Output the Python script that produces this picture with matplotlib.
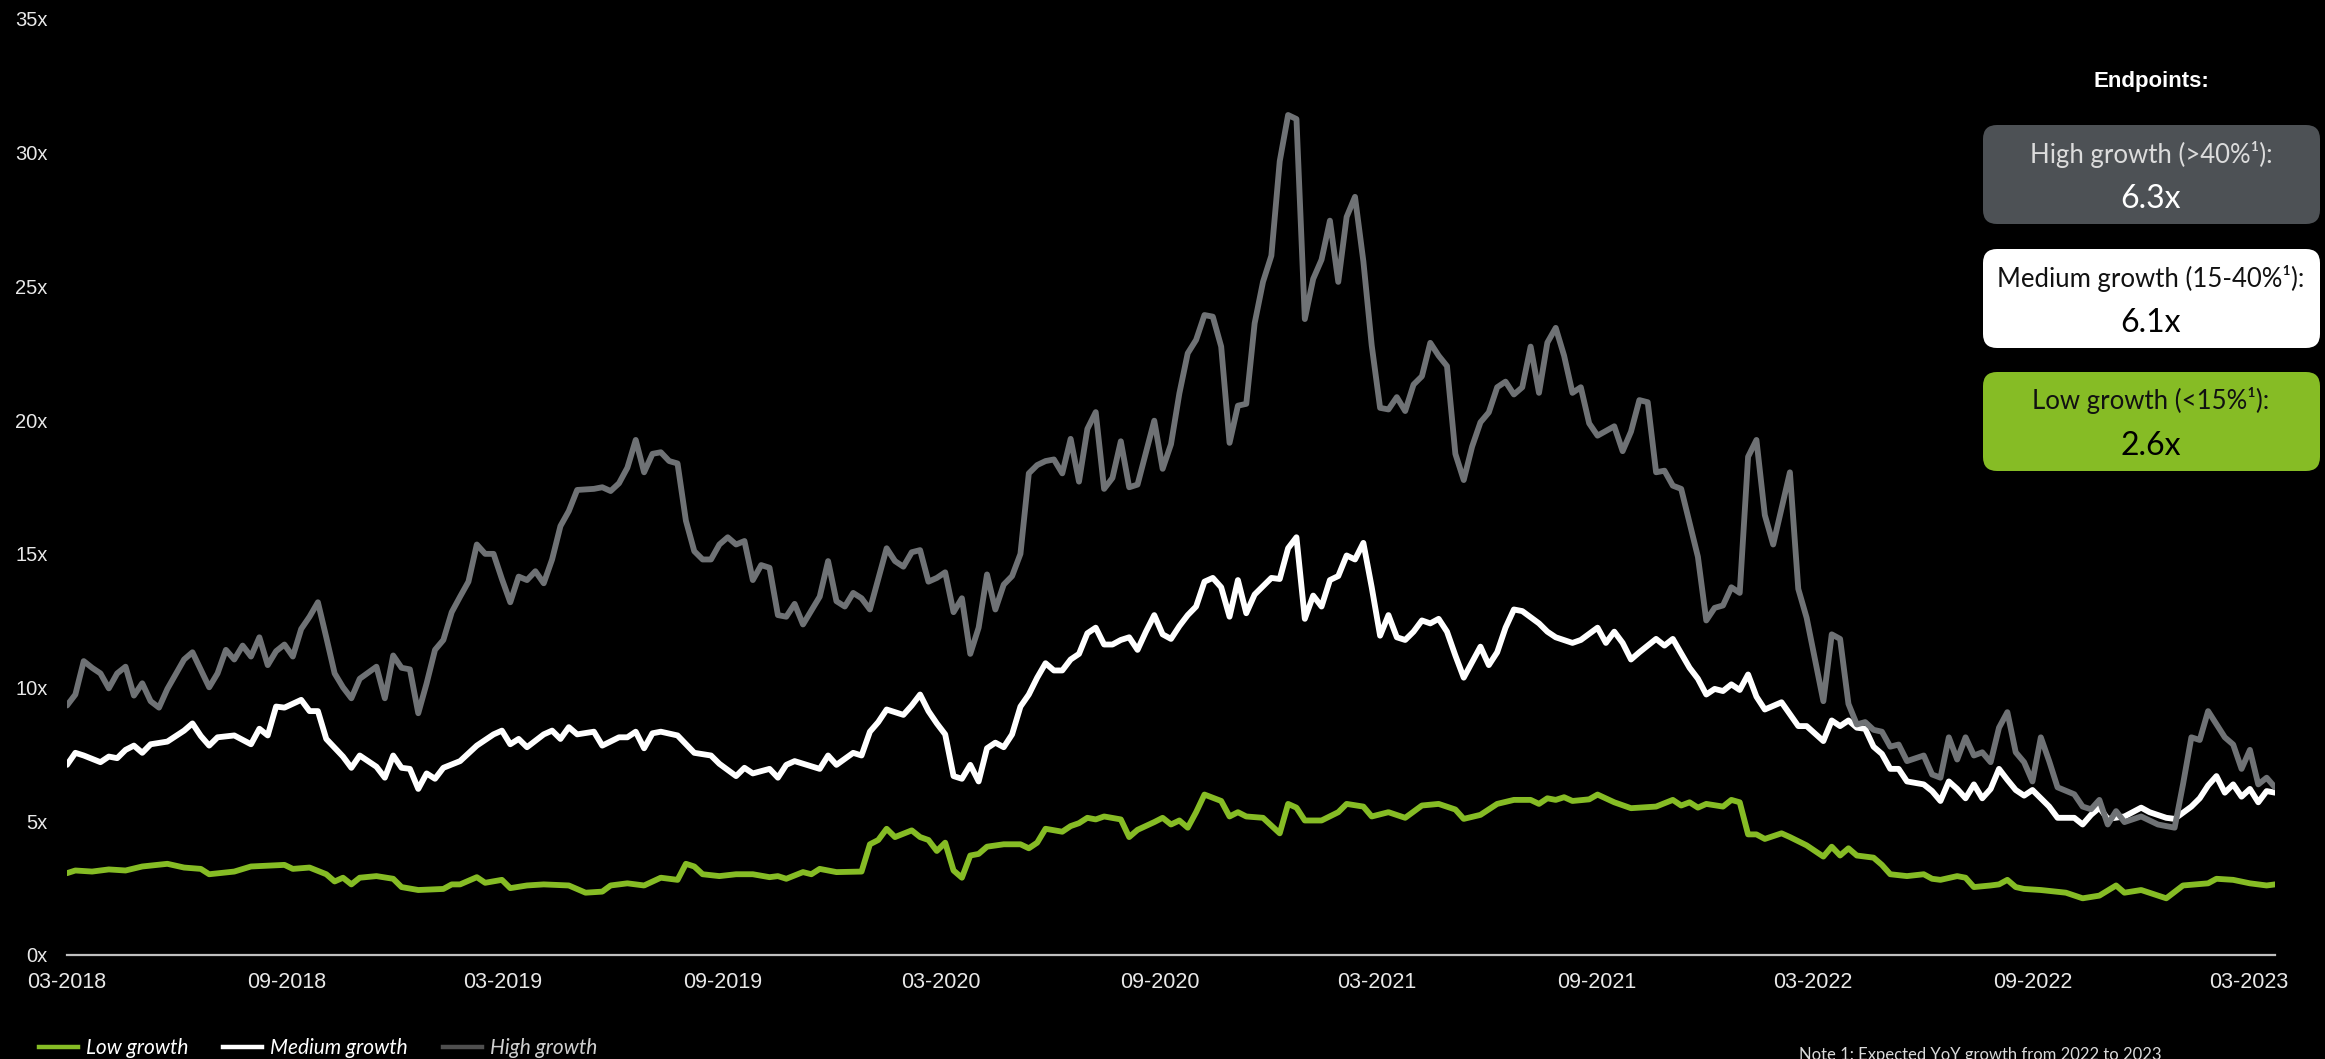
import matplotlib
matplotlib.use('Agg')
import matplotlib.pyplot as plt
import matplotlib.dates as mdates
from matplotlib.lines import Line2D
from matplotlib.patches import FancyBboxPatch
import pandas as pd

# Weekly multiples, series start on 1 March 2018 (week 0)
start = pd.Timestamp('2018-03-01')

high_weeks = [0, 1, 2, 3, 4, 5, 6, 7, 8, 9, 10, 11, 12, 14, 15, 17, 18, 19, 20, 21,
              22, 23, 24, 25, 26, 27, 28, 29, 30, 31, 32, 33, 34, 35, 37, 38, 39, 40, 41, 42,
              43, 44, 45, 46, 47, 48, 49, 50, 51, 52, 53, 54, 55, 56, 57, 58, 59, 60, 61, 63,
              64, 65, 66, 67, 68, 69, 70, 71, 72, 73, 74, 75, 76, 77, 78, 79, 80, 81, 82, 83,
              84, 85, 86, 87, 88, 90, 91, 92, 93, 94, 95, 96, 97, 98, 99, 100, 101, 102, 103, 104,
              105, 106, 107, 108, 109, 110, 111, 112, 113, 114, 115, 116, 117, 118, 119, 120, 121, 122, 123, 124,
              125, 126, 127, 128, 130, 131, 132, 133, 134, 135, 136, 137, 138, 139, 140, 141, 142, 143, 144, 145,
              146, 147, 148, 149, 150, 151, 152, 153, 154, 155, 156, 157, 158, 159, 160, 161, 162, 163, 164, 165,
              166, 167, 168, 169, 170, 171, 172, 173, 174, 175, 176, 177, 178, 179, 180, 181, 182, 183, 185, 186,
              187, 188, 189, 190, 191, 192, 193, 195, 196, 197, 198, 199, 200, 201, 202, 203, 204, 206, 207, 208,
              210, 211, 212, 213, 214, 215, 216, 217, 218, 219, 220, 222, 223, 224, 225, 226, 227, 228, 229, 230,
              231, 232, 233, 234, 235, 236, 237, 238, 240, 241, 242, 243, 244, 245, 246, 248, 250, 252, 253, 254,
              255, 256, 258, 259, 260, 261, 262, 263, 264]
high_vals = [9.33, 9.74, 10.99, 10.74, 10.53, 9.97, 10.53, 10.78, 9.70, 10.16, 9.49, 9.25, 9.95, 11.05, 11.32, 10.01, 10.53, 11.41, 11.05, 11.57,
             11.16, 11.88, 10.84, 11.36, 11.61, 11.16, 12.19, 12.65, 13.19, 11.88, 10.53, 10.01, 9.60, 10.33, 10.78, 9.60, 11.20, 10.74, 10.68, 9.04,
             10.16, 11.41, 11.78, 12.82, 13.40, 13.96, 15.35, 15.00, 15.00, 14.06, 13.19, 14.15, 14.02, 14.35, 13.90, 14.79, 16.04, 16.60, 17.39, 17.43,
             17.49, 17.35, 17.64, 18.22, 19.26, 18.05, 18.74, 18.80, 18.47, 18.38, 16.24, 15.10, 14.79, 14.79, 15.35, 15.62, 15.35, 15.48, 14.02, 14.58,
             14.48, 12.71, 12.65, 13.13, 12.36, 13.40, 14.73, 13.23, 13.03, 13.54, 13.34, 12.92, 14.06, 15.21, 14.73, 14.52, 15.06, 15.14, 13.96, 14.10,
             14.31, 12.82, 13.34, 11.26, 12.24, 14.23, 12.92, 13.85, 14.17, 15.00, 18.01, 18.32, 18.47, 18.53, 18.01, 19.30, 17.70, 19.67, 20.30, 17.43,
             17.84, 19.21, 17.49, 17.59, 19.98, 18.18, 19.10, 21.00, 22.50, 23.00, 23.93, 23.87, 22.75, 19.15, 20.54, 20.61, 23.62, 25.17, 26.15, 29.68,
             31.41, 31.26, 23.78, 25.28, 26.00, 27.46, 25.17, 27.60, 28.35, 25.94, 22.79, 20.46, 20.40, 20.86, 20.34, 21.33, 21.64, 22.89, 22.41, 22.02,
             18.74, 17.76, 19.01, 19.92, 20.29, 21.23, 21.44, 20.96, 21.23, 22.75, 21.02, 22.90, 23.45, 22.41, 21.02, 21.23, 19.88, 19.42, 19.77, 18.84,
             19.57, 20.75, 20.67, 18.05, 18.11, 17.55, 17.43, 14.89, 12.51, 12.98, 13.07, 13.75, 13.54, 18.63, 19.26, 16.45, 15.35, 18.05, 13.69, 12.61,
             9.49, 11.99, 11.82, 9.39, 8.62, 8.71, 8.42, 8.35, 7.79, 7.87, 7.25, 7.46, 6.75, 6.63, 8.14, 7.31, 8.14, 7.46, 7.58, 7.21,
             8.50, 9.08, 7.58, 7.21, 6.49, 8.14, 7.25, 6.27, 6.01, 5.55, 5.45, 5.80, 4.88, 5.38, 4.97, 5.18, 4.88, 4.76, 6.38, 8.14,
             8.04, 9.12, 8.14, 7.87, 6.96, 7.67, 6.38, 6.63, 6.27]

medium_weeks = [0, 1, 2, 4, 5, 6, 7, 8, 9, 10, 12, 14, 15, 16, 17, 18, 20, 22, 23, 24,
                25, 26, 28, 29, 30, 31, 33, 34, 35, 37, 38, 39, 40, 41, 42, 43, 44, 45, 47, 49,
                51, 52, 53, 54, 55, 57, 58, 59, 60, 61, 63, 64, 66, 67, 68, 69, 70, 71, 73, 75,
                77, 78, 80, 81, 82, 84, 85, 86, 87, 90, 91, 92, 94, 95, 96, 97, 98, 100, 101, 102,
                103, 104, 105, 106, 107, 108, 109, 110, 111, 112, 113, 114, 115, 116, 117, 118, 119, 120, 121, 122,
                123, 124, 125, 126, 127, 128, 129, 130, 131, 132, 133, 134, 135, 136, 137, 138, 139, 140, 141, 142,
                144, 145, 146, 147, 148, 149, 150, 151, 152, 153, 154, 155, 156, 157, 158, 159, 160, 161, 162, 163,
                164, 165, 166, 167, 168, 169, 170, 171, 172, 173, 174, 176, 177, 178, 180, 181, 183, 184, 185, 186,
                187, 188, 190, 191, 192, 194, 195, 196, 197, 198, 199, 200, 201, 202, 203, 205, 207, 208, 210, 211,
                212, 213, 214, 215, 216, 217, 218, 219, 220, 222, 223, 224, 225, 226, 227, 228, 229, 230, 231, 232,
                233, 234, 235, 237, 238, 240, 241, 242, 243, 244, 246, 248, 249, 251, 252, 254, 255, 256, 257, 258,
                259, 260, 261, 262, 263, 264]
medium_vals = [7.11, 7.56, 7.46, 7.21, 7.42, 7.36, 7.67, 7.83, 7.56, 7.88, 7.98, 8.39, 8.66, 8.19, 7.83, 8.14, 8.21, 7.88, 8.46, 8.21,
               9.29, 9.25, 9.54, 9.12, 9.12, 8.08, 7.42, 7.00, 7.46, 7.04, 6.63, 7.46, 7.00, 6.96, 6.21, 6.79, 6.59, 7.00, 7.25, 7.83,
               8.25, 8.39, 7.88, 8.08, 7.77, 8.25, 8.39, 8.08, 8.52, 8.25, 8.35, 7.83, 8.14, 8.14, 8.35, 7.73, 8.29, 8.35, 8.21, 7.56,
               7.46, 7.15, 6.69, 7.00, 6.79, 6.96, 6.63, 7.11, 7.25, 6.96, 7.46, 7.11, 7.56, 7.46, 8.35, 8.71, 9.18, 8.98, 9.33, 9.74,
               9.12, 8.66, 8.25, 6.69, 6.59, 7.11, 6.49, 7.73, 7.94, 7.77, 8.25, 9.29, 9.74, 10.37, 10.91, 10.64, 10.64, 11.05, 11.26, 12.03,
               12.24, 11.61, 11.61, 11.78, 11.88, 11.41, 12.09, 12.71, 11.99, 11.82, 12.30, 12.71, 13.03, 13.96, 14.10, 13.75, 12.65, 14.02, 12.78, 13.48,
               14.10, 14.06, 15.21, 15.62, 12.57, 13.44, 13.03, 14.02, 14.17, 14.94, 14.79, 15.41, 13.75, 11.94, 12.71, 11.88, 11.78, 12.09, 12.51, 12.40,
               12.57, 12.09, 11.20, 10.37, 10.95, 11.53, 10.84, 11.32, 12.24, 12.92, 12.86, 12.40, 12.09, 11.88, 11.67, 11.78, 12.24, 11.67, 12.09, 11.67,
               11.05, 11.32, 11.82, 11.57, 11.82, 10.74, 10.33, 9.74, 9.95, 9.87, 10.12, 9.91, 10.49, 9.66, 9.18, 9.45, 8.56, 8.56, 8.00, 8.77,
               8.56, 8.77, 8.50, 8.46, 7.79, 7.52, 6.96, 6.96, 6.49, 6.38, 6.13, 5.76, 6.49, 6.21, 5.86, 6.38, 5.86, 6.21, 6.96, 6.55,
               6.17, 5.96, 6.17, 5.55, 5.13, 5.13, 4.88, 5.24, 5.51, 5.09, 5.18, 5.51, 5.34, 5.13, 5.09, 5.55, 5.86, 6.34, 6.69, 6.07,
               6.38, 5.92, 6.21, 5.71, 6.13, 6.07]

low_weeks = [0, 1, 3, 5, 7, 9, 12, 14, 16, 17, 20, 22, 26, 27, 29, 31, 32, 33, 34, 35,
             37, 39, 40, 42, 45, 46, 47, 49, 50, 52, 53, 55, 57, 60, 62, 64, 65, 67, 69, 71,
             73, 74, 75, 76, 78, 80, 82, 84, 85, 86, 88, 89, 90, 92, 95, 96, 97, 98, 99, 101,
             102, 103, 104, 105, 106, 107, 108, 109, 110, 112, 114, 115, 116, 117, 119, 120, 121, 122, 123, 124,
             126, 127, 128, 130, 131, 132, 133, 134, 135, 136, 138, 139, 140, 141, 143, 145, 146, 147, 148, 150,
             152, 153, 155, 156, 158, 160, 162, 164, 166, 167, 169, 171, 173, 175, 176, 177, 178, 179, 180, 182,
             183, 185, 187, 190, 192, 193, 194, 195, 196, 198, 199, 200, 201, 202, 203, 205, 206, 208, 210, 211,
             212, 213, 214, 216, 217, 218, 220, 222, 223, 224, 226, 227, 228, 230, 231, 232, 233, 234, 236, 239,
             241, 243, 245, 246, 248, 251, 253, 256, 257, 259, 261, 263, 264]
low_vals = [3.06, 3.16, 3.12, 3.20, 3.16, 3.31, 3.41, 3.27, 3.22, 3.02, 3.12, 3.31, 3.37, 3.22, 3.27, 3.02, 2.75, 2.89, 2.64, 2.89,
            2.95, 2.85, 2.54, 2.43, 2.47, 2.64, 2.64, 2.91, 2.70, 2.81, 2.50, 2.60, 2.64, 2.60, 2.33, 2.37, 2.60, 2.68, 2.60, 2.89,
            2.81, 3.41, 3.31, 3.02, 2.95, 3.02, 3.02, 2.91, 2.95, 2.85, 3.10, 3.02, 3.22, 3.10, 3.12, 4.14, 4.30, 4.72, 4.41, 4.66,
            4.41, 4.30, 3.89, 4.20, 3.16, 2.89, 3.72, 3.78, 4.05, 4.14, 4.14, 3.99, 4.20, 4.72, 4.61, 4.82, 4.93, 5.13, 5.07, 5.18,
            5.07, 4.41, 4.68, 4.97, 5.13, 4.88, 5.03, 4.76, 5.34, 6.00, 5.76, 5.18, 5.34, 5.18, 5.13, 4.55, 5.65, 5.51, 5.03, 5.03,
            5.34, 5.65, 5.55, 5.18, 5.34, 5.13, 5.59, 5.65, 5.44, 5.09, 5.24, 5.65, 5.80, 5.80, 5.65, 5.86, 5.80, 5.90, 5.76, 5.82,
            6.00, 5.71, 5.49, 5.55, 5.80, 5.59, 5.71, 5.51, 5.65, 5.55, 5.80, 5.71, 4.51, 4.51, 4.34, 4.55, 4.41, 4.10, 3.68, 4.05,
            3.72, 3.99, 3.72, 3.64, 3.37, 3.02, 2.95, 3.02, 2.85, 2.81, 2.95, 2.89, 2.54, 2.60, 2.64, 2.81, 2.54, 2.47, 2.43, 2.33,
            2.12, 2.22, 2.60, 2.33, 2.43, 2.12, 2.60, 2.68, 2.85, 2.81, 2.68, 2.60, 2.64]

series_names = ['Low growth', 'Medium growth', 'High growth']
box_labels = ['High growth (>40%\u00b9):', 'Medium growth (15-40%\u00b9):', 'Low growth (<15%\u00b9):']
y_ticks = [0, 5, 10, 15, 20, 25, 30, 35]

GREEN = '#86bc25'
WHITE = '#ffffff'
GREY = '#6f7275'
BOX_GREY = '#4d5155'

W, H = 2325, 1059


def to_dates(weeks):
    return start + pd.to_timedelta([w * 7 for w in weeks], unit='D')


fig = plt.figure(figsize=(W / 100, H / 100), dpi=100, facecolor='black')

# main chart area, in pixel fractions of the figure
ax = fig.add_axes([67 / W, 1 - 955 / H, (2275 - 67) / W, (955 - 19) / H])
ax.set_facecolor('black')

line_kw = dict(lw=4.2, solid_joinstyle='round', solid_capstyle='round')
ax.plot(to_dates(low_weeks), low_vals, color=GREEN, zorder=3, **line_kw)
ax.plot(to_dates(medium_weeks), medium_vals, color=WHITE, zorder=4, **line_kw)
ax.plot(to_dates(high_weeks), high_vals, color=GREY, zorder=5, **line_kw)

end_date = to_dates([max(high_weeks)])[0]
ax.set_xlim(start, end_date)
ax.set_ylim(0, 35)

ax.xaxis.set_major_locator(mdates.MonthLocator(bymonth=[3, 9], bymonthday=1))
ax.xaxis.set_major_formatter(mdates.DateFormatter('%m-%Y'))
ax.set_yticks(y_ticks)
ax.set_yticklabels([f'{t}x' for t in y_ticks])
ax.tick_params(axis='both', length=0, colors='#e8e8e8')
ax.tick_params(axis='y', pad=14, labelsize=14.5)
ax.tick_params(axis='x', pad=12, labelsize=15.5)
for lbl in ax.get_xticklabels() + ax.get_yticklabels():
    lbl.set_fontfamily('Liberation Sans')

for side in ['top', 'right', 'left']:
    ax.spines[side].set_visible(False)
ax.spines['bottom'].set_color('#c0c0c0')
ax.spines['bottom'].set_linewidth(1.6)

# overlay in pixel units for the endpoint panel
ov = fig.add_axes([0, 0, 1, 1], zorder=10)
ov.set_xlim(0, W)
ov.set_ylim(H, 0)
ov.axis('off')
ov.patch.set_alpha(0)

ov.text(2151, 82, 'Endpoints:', color='white', fontsize=16, fontweight='bold',
        family='Liberation Sans', ha='center', va='center')

end_values = [high_vals[-1], medium_vals[-1], low_vals[-1]]
box_faces = [BOX_GREY, WHITE, GREEN]
label_colors = ['#dcdcdc', '#111111', '#111111']
value_colors = ['#ffffff', '#000000', '#000000']
box_tops = [125, 249, 372]

for label, val, face, lc, vc, top in zip(box_labels, end_values, box_faces,
                                          label_colors, value_colors, box_tops):
    ov.add_patch(FancyBboxPatch((1983, top), 337, 99,
                                boxstyle='round,pad=0,rounding_size=14',
                                facecolor=face, edgecolor='none'))
    ov.text(2151, top + 29, label, color=lc, fontsize=18.5, family='Lato',
            ha='center', va='center')
    ov.text(2151, top + 74, f'{val:.1f}x', color=vc, fontsize=23, family='Lato',
            ha='center', va='center')

ov.text(1799, 1047, 'Note 1: Expected YoY growth from 2022 to 2023',
        color='#d9d9d9', fontsize=12, family='Lato', ha='left', va='top')

handles = [Line2D([], [], color=GREEN, lw=3.2),
           Line2D([], [], color=WHITE, lw=3.2),
           Line2D([], [], color='#4f4f4f', lw=3.2)]
leg = fig.legend(handles, series_names, loc='center left',
                 bbox_to_anchor=(39 / W, 1 - 1048 / H), ncol=3, frameon=False,
                 handlelength=1.87, handletextpad=0.38, columnspacing=1.68,
                 borderpad=0, borderaxespad=0,
                 prop={'family': 'Lato', 'style': 'italic', 'size': 15})
for txt, col in zip(leg.get_texts(), ['white', 'white', '#cfcfcf']):
    txt.set_color(col)

fig.savefig('out.png', dpi=100, facecolor='black')
